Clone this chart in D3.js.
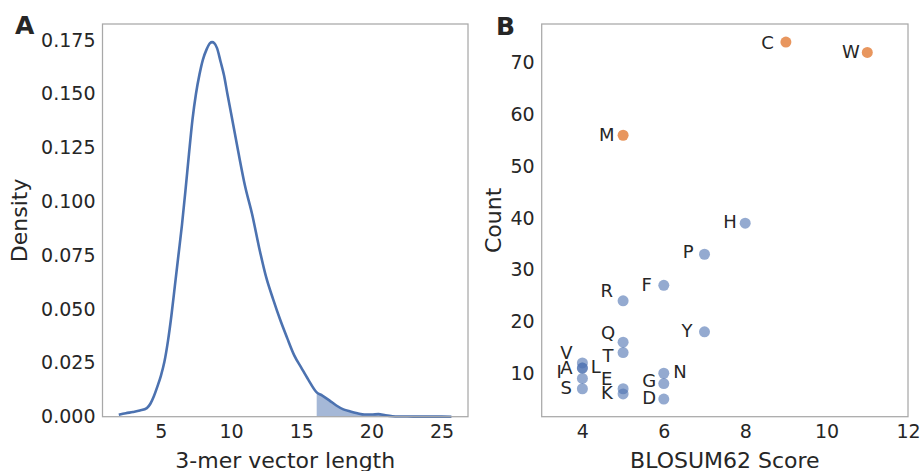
<!DOCTYPE html>
<html>
<head>
<meta charset="utf-8">
<script src="https://cdn.jsdelivr.net/npm/d3@7"></script>
<style>
  body { margin: 0; background: #fff; }
  svg text { font-family: "DejaVu Sans", sans-serif; fill: #262626; }
</style>
</head>
<body>
<div id="chart"></div>
<script>
// Panel A: KDE of 3-mer vector length
var densityX = [2.0, 2.5, 3.0, 3.5, 4.0, 4.25, 4.5, 4.75, 5.0, 5.25, 5.5, 5.75, 6.0, 6.25, 6.5, 6.75, 7.0, 7.25, 7.5, 7.75, 8.0, 8.25, 8.5, 8.65, 8.8, 9.0, 9.25, 9.5, 9.75, 10.0, 10.5, 11.0, 11.5, 12.0, 12.5, 13.0, 13.5, 14.0, 14.5, 15.0, 15.5, 16.1, 16.5, 17.0, 17.5, 18.0, 18.5, 19.0, 19.5, 20.0, 20.5, 21.0, 21.5, 22.0, 23.0, 24.0, 25.0, 25.7];
var densityY = [0.0009, 0.0016, 0.0022, 0.0029, 0.0040, 0.0060, 0.0095, 0.014, 0.019, 0.0255, 0.035, 0.047, 0.061, 0.075, 0.089, 0.105, 0.122, 0.138, 0.150, 0.159, 0.166, 0.1705, 0.1735, 0.174, 0.1735, 0.1712, 0.165, 0.1585, 0.1495, 0.141, 0.1235, 0.107, 0.094, 0.0785, 0.0648, 0.0545, 0.045, 0.0365, 0.0285, 0.0228, 0.0172, 0.0113, 0.0098, 0.0076, 0.0052, 0.0034, 0.0024, 0.0016, 0.001, 0.001, 0.0012, 0.0006, 0.0002, 0.0001, 0.00005, 0.00003, 0.00002, 0.00001];
var shadeFrom = 16.1;
var xTicksA = [5, 10, 15, 20, 25];
var yTicksA = [0, 0.025, 0.05, 0.075, 0.1, 0.125, 0.15, 0.175];

// Panel B: amino acids, BLOSUM62 self score vs count
var residues = ["C", "W", "M", "H", "P", "F", "R", "Y", "Q", "T", "V", "A", "L", "I", "S", "E", "K", "N", "G", "D"];
var blosumScore = [9, 11, 5, 8, 7, 6, 5, 7, 5, 5, 4, 4, 4, 4, 4, 5, 5, 6, 6, 6];
var counts = [74, 72, 56, 39, 33, 27, 24, 18, 16, 14, 12, 11, 11, 9, 7, 7, 6, 10, 8, 5];
var outlier = [true, true, true, false, false, false, false, false, false, false, false, false, false, false, false, false, false, false, false, false];
// where each letter was written, in data units
var labelX = [8.55, 10.6, 4.6, 7.63, 6.6, 5.58, 4.6, 6.57, 4.63, 4.63, 3.61, 3.61, 4.33, 3.43, 3.6, 4.6, 4.6, 6.4, 5.64, 5.64];
var labelY = [74.0, 72.2, 56.1, 39.4, 33.5, 27.2, 25.9, 18.2, 17.9, 13.5, 14.1, 11.2, 11.3, 10.4, 7.3, 9.0, 6.3, 10.4, 8.5, 5.3];
var xTicksB = [4, 6, 8, 10, 12];
var yTicksB = [10, 20, 30, 40, 50, 60, 70];

var blue = "#4C72B0", orange = "#E8965E";
var frameColor = "#a8a8a8";

var svg = d3.select("#chart").append("svg")
    .attr("width", 921)
    .attr("height", 471);

function frame(g, w, h) {
    g.append("rect")
        .attr("x", 0).attr("y", 0)
        .attr("width", w).attr("height", h)
        .attr("fill", "none")
        .attr("stroke", frameColor)
        .attr("stroke-width", 1.25);
}

function styleAxis(sel) {
    sel.select(".domain").remove();
    sel.selectAll("text").style("font-size", "19px").attr("fill", "#262626");
}

function panelA() {
    var left = 102.5, top = 24, w = 365.5, h = 392.7;
    var g = svg.append("g").attr("transform", "translate(" + left + "," + top + ")");

    var x = d3.scaleLinear().domain([0.84, 26.88]).range([0, w]);
    var y = d3.scaleLinear().domain([0, 0.1824]).range([h, 0]);

    var pts = densityX.map(function(d, i) { return [d, densityY[i]]; });
    var tail = pts.filter(function(p) { return p[0] >= shadeFrom; });

    g.append("path")
        .datum(tail)
        .attr("fill", blue)
        .attr("fill-opacity", 0.5)
        .attr("d", d3.area()
            .x(function(p) { return x(p[0]); })
            .y0(y(0))
            .y1(function(p) { return y(p[1]); })
            .curve(d3.curveMonotoneX));

    g.append("path")
        .datum(pts)
        .attr("fill", "none")
        .attr("stroke", blue)
        .attr("stroke-width", 2.6)
        .attr("stroke-linejoin", "round")
        .attr("d", d3.line()
            .x(function(p) { return x(p[0]); })
            .y(function(p) { return y(p[1]); })
            .curve(d3.curveMonotoneX));

    g.append("g")
        .attr("transform", "translate(0," + h + ")")
        .call(d3.axisBottom(x).tickValues(xTicksA).tickSize(0).tickPadding(8).tickFormat(d3.format("d")))
        .call(styleAxis);

    g.append("g")
        .call(d3.axisLeft(y).tickValues(yTicksA).tickSize(0).tickPadding(7).tickFormat(d3.format(".3f")))
        .call(styleAxis);

    frame(g, w, h);

    g.append("text")
        .attr("x", w / 2)
        .attr("y", h + 51)
        .attr("text-anchor", "middle")
        .style("font-size", "22px")
        .text("3-mer vector length");

    g.append("text")
        .attr("transform", "translate(" + (27 - left) + "," + (h / 2) + ") rotate(-90)")
        .attr("text-anchor", "middle")
        .style("font-size", "22px")
        .text("Density");

    svg.append("text")
        .attr("x", 15)
        .attr("y", 34)
        .style("font-size", "25px")
        .style("font-weight", "bold")
        .text("A");
}

function panelB() {
    var left = 541.7, top = 24, w = 366.3, h = 392.7;
    var g = svg.append("g").attr("transform", "translate(" + left + "," + top + ")");

    var x = d3.scaleLinear().domain([3, 12]).range([0, w]);
    var y = d3.scaleLinear().domain([1.6, 77.5]).range([h, 0]);

    g.append("g")
        .attr("transform", "translate(0," + h + ")")
        .call(d3.axisBottom(x).tickValues(xTicksB).tickSize(0).tickPadding(8))
        .call(styleAxis);

    g.append("g")
        .call(d3.axisLeft(y).tickValues(yTicksB).tickSize(0).tickPadding(7))
        .call(styleAxis);

    g.selectAll(".dot")
        .data(residues)
        .enter().append("circle")
        .attr("class", "dot")
        .attr("cx", function(d, i) { return x(blosumScore[i]); })
        .attr("cy", function(d, i) { return y(counts[i]); })
        .attr("r", 5.5)
        .attr("fill", function(d, i) { return outlier[i] ? orange : blue; })
        .attr("fill-opacity", function(d, i) { return outlier[i] ? 1 : 0.6; });

    g.selectAll(".lbl")
        .data(residues)
        .enter().append("text")
        .attr("class", "lbl")
        .attr("x", function(d, i) { return x(labelX[i]); })
        .attr("y", function(d, i) { return y(labelY[i]); })
        .attr("text-anchor", "middle")
        .attr("dy", "0.36em")
        .style("font-size", "18px")
        .text(function(d) { return d; });

    frame(g, w, h);

    g.append("text")
        .attr("x", w / 2)
        .attr("y", h + 51)
        .attr("text-anchor", "middle")
        .style("font-size", "22px")
        .text("BLOSUM62 Score");

    g.append("text")
        .attr("transform", "translate(" + (501 - left) + "," + (h / 2) + ") rotate(-90)")
        .attr("text-anchor", "middle")
        .style("font-size", "22px")
        .text("Count");

    svg.append("text")
        .attr("x", 496)
        .attr("y", 35)
        .style("font-size", "25px")
        .style("font-weight", "bold")
        .text("B");
}

panelA();
panelB();
</script>
</body>
</html>
